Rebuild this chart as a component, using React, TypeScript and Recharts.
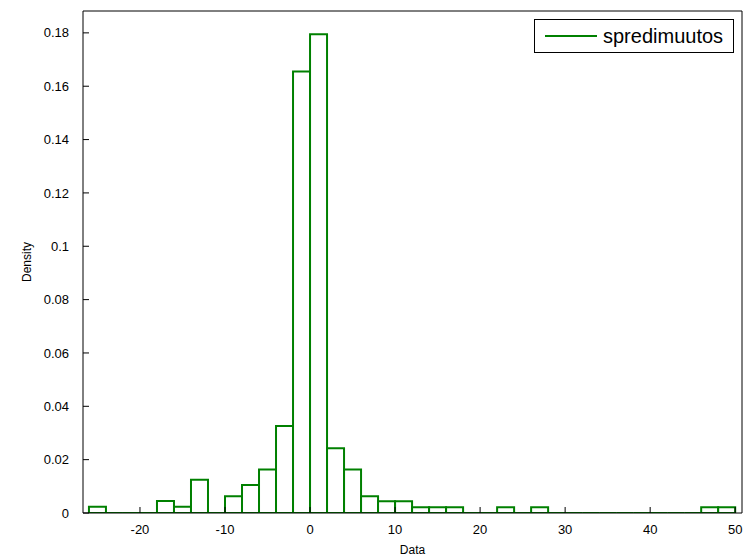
import React from "react";
import { ComposedChart, Bar, XAxis, YAxis } from "recharts";

// histogram bins, width 2
const binCenters = [
  -25, -23, -21, -19, -17, -15, -13, -11, -9, -7, -5, -3, -1, 1, 3, 5, 7, 9, 11,
  13, 15, 17, 19, 21, 23, 25, 27, 29, 31, 33, 35, 37, 39, 41, 43, 45, 47, 49,
];
const densities = [
  0.0023, 0, 0, 0, 0.0045, 0.0023, 0.0125, 0, 0.0063, 0.0105, 0.0163, 0.0326,
  0.1655, 0.1795, 0.0243, 0.0163, 0.0063, 0.0044, 0.0044, 0.0022, 0.0022,
  0.0022, 0, 0, 0.0022, 0, 0.0022, 0, 0, 0, 0, 0, 0, 0, 0, 0, 0.0022, 0.0022,
];
const xTicks = [-20, -10, 0, 10, 20, 30, 40, 50];
const yTicks = [0, 0.02, 0.04, 0.06, 0.08, 0.1, 0.12, 0.14, 0.16, 0.18];
const seriesName = "spredimuutos";

const data = binCenters.map((mid, i) => ({ mid, density: densities[i] }));

const GREEN = "#008000";
const FONT = "'Liberation Sans', Arial, sans-serif";
const tickStyle = { fontSize: 13, fill: "#000", fontFamily: FONT };

function BinShape(props: any) {
  const { x, y, width, height } = props;
  if (x == null || y == null) return null;
  const h = height || 0;
  const d = `M${x},${y + h}L${x},${y}L${x + width},${y}L${x + width},${y + h}Z`;
  return <path d={d} fill="#fff" stroke={GREEN} strokeWidth={2} />;
}

function LegendBox() {
  return (
    <div
      style={{
        position: "absolute",
        left: 534,
        top: 19,
        width: 198,
        height: 32,
        border: "1px solid #000",
        background: "#fff",
        display: "flex",
        alignItems: "center",
        fontFamily: FONT,
        fontSize: 20,
        color: "#000",
      }}
    >
      <span
        style={{
          display: "inline-block",
          width: 52,
          height: 0,
          borderTop: `2px solid ${GREEN}`,
          marginLeft: 10,
          marginRight: 6,
        }}
      />
      <span>{seriesName}</span>
    </div>
  );
}

export default function App() {
  return (
    <div style={{ position: "absolute", left: 0, top: 0, width: 744, height: 560, background: "#fff" }}>
      <ComposedChart
        width={744}
        height={560}
        data={data}
        margin={{ top: 10, right: 1, left: 0, bottom: 0 }}
        barCategoryGap={0}
        barGap={0}
      >
        <XAxis
          dataKey="mid"
          type="number"
          domain={[-26.7, 50.8]}
          allowDataOverflow
          ticks={xTicks}
          interval={0}
          height={47}
          tickSize={-6}
          tickMargin={18}
          tick={tickStyle}
          axisLine={{ stroke: "#000" }}
          tickLine={{ stroke: "#000" }}
          label={{
            value: "Data",
            content: ({ viewBox }: any) => (
              <text
                x={viewBox.x + viewBox.width / 2}
                y={554}
                textAnchor="middle"
                fontSize={12}
                fontFamily={FONT}
                fill="#000"
              >
                Data
              </text>
            ),
          }}
        />
        <XAxis
          xAxisId="top"
          orientation="top"
          dataKey="mid"
          type="number"
          domain={[-26.7, 50.8]}
          allowDataOverflow
          ticks={xTicks}
          interval={0}
          height={1}
          tickSize={-6}
          tick={false}
          axisLine={{ stroke: "#000" }}
          tickLine={{ stroke: "#000" }}
        />
        <YAxis
          type="number"
          domain={[0, 0.1882]}
          allowDataOverflow
          ticks={yTicks}
          interval={0}
          width={83}
          tickSize={-6}
          tickMargin={20}
          tick={tickStyle}
          tickFormatter={(v: number) => (v === 0 ? "0" : String(+v.toFixed(2)))}
          axisLine={{ stroke: "#000" }}
          tickLine={{ stroke: "#000" }}
          label={{
            value: "Density",
            content: ({ viewBox }: any) => {
              const cx = viewBox.x + 27;
              const cy = viewBox.y + viewBox.height / 2;
              return (
                <text
                  x={cx}
                  y={cy}
                  transform={`rotate(-90 ${cx} ${cy})`}
                  textAnchor="middle"
                  dominantBaseline="central"
                  fontSize={12}
                  fontFamily={FONT}
                  fill="#000"
                >
                  Density
                </text>
              );
            },
          }}
        />
        <YAxis
          yAxisId="right"
          orientation="right"
          type="number"
          domain={[0, 0.1882]}
          allowDataOverflow
          ticks={yTicks}
          interval={0}
          width={1}
          tickSize={-6}
          tick={false}
          axisLine={{ stroke: "#000" }}
          tickLine={{ stroke: "#000" }}
        />
        <Bar
          dataKey="density"
          name={seriesName}
          shape={<BinShape />}
          isAnimationActive={false}
        />
      </ComposedChart>
      <LegendBox />
    </div>
  );
}
